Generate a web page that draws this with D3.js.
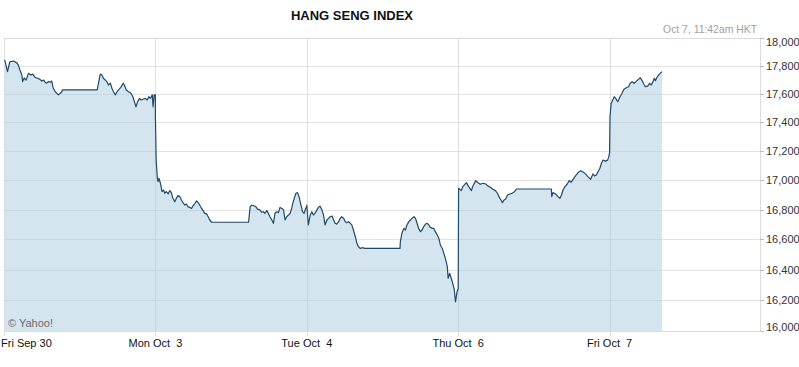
<!DOCTYPE html>
<html><head><meta charset="utf-8">
<script src="https://cdn.jsdelivr.net/npm/d3@7"></script>
<style>
body{margin:0;background:#fff}
svg{display:block}
text{font-family:"Liberation Sans",Arial,Helvetica,sans-serif}
</style>
</head><body>
<svg id="chart" width="799" height="367"></svg>
<script>
// ---- data ----
const title = "HANG SENG INDEX";
const stamp = "Oct 7, 11:42am HKT";
const credit = "\u00a9 Yahoo!";
const tradingDays = ["2011-09-30","2011-10-03","2011-10-04","2011-10-06","2011-10-07"];
const sessionLength = 390; // minutes per trading day, 9:30-16:00
const yTicks = [16000,16200,16400,16600,16800,17000,17200,17400,17600,17800,18000];

// [minutes since 9:30, index value]
const sep30 = [[2,17842],[9,17758],[15,17829],[24,17834],[33,17821],[37,17805],[41,17770],[46,17734],[48,17687],[52,17713],[57,17698],[63,17746],[69,17734],[74,17741],[80,17718],[86,17711],[93,17703],[97,17691],[102,17698],[106,17683],[110,17676],[114,17687],[119,17683],[123,17691],[127,17640],[132,17615],[140,17593],[145,17605],[149,17615],[150,17628],
[240,17628],[248,17741],[252,17734],[256,17711],[265,17687],[269,17663],[274,17676],[278,17640],[282,17615],[287,17593],[291,17615],[295,17628],[301,17646],[307,17676],[310,17663],[315,17628],[321,17615],[327,17605],[332,17580],[336,17544],[340,17509],[344,17544],[349,17568],[353,17557],[358,17562],[364,17568],[369,17557],[373,17580],[377,17568],[382,17593],[384,17509],[387,17593],[390,17593]];

const oct3 = [[0,17440],[2,17138],[5,17013],[7,16990],[9,17013],[13,16979],[17,16922],[21,16933],[24,16911],[28,16922],[33,16906],[37,16929],[41,16915],[45,16877],[50,16854],[54,16877],[58,16895],[63,16888],[67,16865],[71,16847],[76,16831],[80,16838],[84,16819],[89,16815],[93,16808],[97,16826],[102,16843],[106,16860],[110,16847],[114,16831],[119,16808],[123,16793],[127,16775],[132,16771],[136,16752],[140,16730],[145,16715],[150,16715],
[240,16715],[244,16819],[248,16831],[254,16826],[259,16819],[263,16803],[269,16798],[274,16782],[278,16786],[282,16775],[287,16793],[291,16775],[295,16752],[300,16730],[304,16708],[308,16775],[313,16786],[317,16780],[321,16815],[326,16808],[330,16798],[334,16730],[338,16752],[343,16764],[347,16775],[351,16808],[355,16854],[362,16911],[366,16915],[370,16888],[375,16831],[379,16786],[383,16775],[387,16808],[390,16819]];

const oct4 = [[0,16831],[4,16697],[9,16764],[13,16786],[17,16764],[21,16775],[26,16798],[30,16815],[34,16824],[39,16798],[43,16764],[47,16697],[52,16730],[56,16741],[60,16752],[65,16757],[69,16730],[73,16708],[77,16703],[82,16719],[86,16741],[90,16752],[95,16741],[99,16719],[103,16712],[107,16719],[112,16708],[116,16697],[120,16663],[125,16618],[129,16574],[133,16551],[138,16540],[142,16545],[150,16540],
[240,16540],[241,16585],[245,16641],[250,16674],[254,16663],[258,16697],[263,16719],[267,16730],[271,16741],[276,16752],[280,16741],[284,16708],[288,16674],[293,16652],[297,16663],[301,16685],[306,16703],[310,16708],[314,16697],[318,16681],[323,16674],[327,16674],[331,16652],[336,16629],[340,16608],[344,16563],[349,16540],[353,16507],[357,16474],[362,16419],[364,16343],[368,16375],[372,16343],[376,16310],[380,16266],[383,16189],[387,16254],[390,16276]];

const oct6 = [[1,16945],[8,16929],[12,16956],[21,16983],[27,16956],[34,16929],[38,16961],[45,16997],[51,16983],[57,16972],[64,16979],[71,16974],[76,16961],[83,16952],[89,16938],[96,16929],[101,16911],[105,16888],[109,16870],[114,16847],[118,16865],[122,16870],[127,16899],[133,16906],[139,16911],[145,16922],[150,16940],
[240,16940],[241,16888],[244,16915],[251,16906],[257,16888],[262,16877],[266,16899],[270,16933],[275,16956],[281,16974],[286,16997],[291,16986],[296,17006],[302,17029],[309,17052],[315,17065],[322,17056],[328,17043],[334,17024],[341,17006],[347,17043],[351,17029],[356,17036],[360,17058],[365,17082],[369,17116],[373,17138],[379,17131],[385,17138],[388,17162],[390,17192]];

const oct7 = [[1,17440],[4,17533],[8,17557],[12,17580],[17,17563],[21,17545],[27,17580],[32,17605],[37,17633],[43,17644],[49,17651],[53,17675],[58,17687],[63,17675],[68,17687],[74,17703],[79,17715],[83,17698],[87,17675],[92,17651],[98,17655],[103,17675],[107,17663],[112,17687],[115,17711],[118,17694],[122,17718],[126,17734],[130,17746],[135,17758]];

const sessions = [sep30, oct3, oct4, oct6, oct7];

// ---- chart ----
const svg = d3.select("#chart");
const pLeft = 4, pRight = 761, pTop = 38, pBottom = 331;
const x = d3.scaleLinear().domain([0, tradingDays.length * sessionLength]).range([pLeft, pRight]);
const y = d3.scaleLog().domain([yTicks[0], yTicks[yTicks.length-1]]).range([pBottom, pTop]);
const parse = d3.timeParse("%Y-%m-%d");
const fmt = d3.timeFormat("%a %b %e");
const points = sessions.flatMap((s, i) => s.map(([m, v]) => ({t: i * sessionLength + m, v})));
const px = v => Math.round(v) + 0.5;

// horizontal gridlines
svg.append("g").selectAll("line").data(yTicks).join("line")
  .attr("x1", pLeft).attr("x2", pRight - 1)
  .attr("y1", d => px(y(d))).attr("y2", d => px(y(d)))
  .attr("stroke", "#e2e2e2");

// vertical gridlines / day ticks
svg.append("g").selectAll("line").data(tradingDays).join("line")
  .attr("x1", (d, i) => px(x(i * sessionLength))).attr("x2", (d, i) => px(x(i * sessionLength)))
  .attr("y1", pTop).attr("y2", pBottom + 5)
  .attr("stroke", "#dedede");

// area + line
svg.append("path").datum(points)
  .attr("d", d3.area().x(d => x(d.t)).y0(y(yTicks[0])).y1(d => y(d.v)))
  .attr("fill", "rgb(180,209,229)").attr("fill-opacity", 0.56);

svg.append("path").datum(points)
  .attr("d", d3.line().x(d => x(d.t)).y(d => y(d.v)))
  .attr("fill", "none").attr("stroke", "#1f4a6a").attr("stroke-width", 1.2)
  .attr("stroke-linejoin", "round");

// frame
const frame = svg.append("g").attr("stroke", "#dcdcdc").attr("fill", "none");
frame.append("line").attr("x1", pLeft).attr("x2", pRight).attr("y1", px(pTop)).attr("y2", px(pTop));
frame.append("line").attr("x1", pLeft).attr("x2", pRight).attr("y1", px(pBottom)).attr("y2", px(pBottom));
frame.append("line").attr("x1", px(pRight - 1)).attr("x2", px(pRight - 1)).attr("y1", pTop).attr("y2", pBottom + 1);

// right axis ticks + labels
svg.append("g").selectAll("line").data(yTicks).join("line")
  .attr("x1", pRight - 1).attr("x2", pRight + 3)
  .attr("y1", d => px(y(d))).attr("y2", d => px(y(d)))
  .attr("stroke", "#bbbbbb");

svg.append("g").selectAll("text").data(yTicks).join("text")
  .attr("x", 766)
  .attr("y", d => Math.min(Math.max(y(d) + 4, 46), 331))
  .attr("font-size", 11).attr("fill", "#333")
  .text(d3.format(","));

// x labels
svg.append("g").selectAll("text").data(tradingDays).join("text")
  .attr("x", (d, i) => i === 0 ? 1 : x(i * sessionLength))
  .attr("y", 347)
  .attr("text-anchor", (d, i) => i === 0 ? "start" : "middle")
  .attr("font-size", 11).attr("fill", "#111")
  .style("white-space", "pre")
  .text(d => fmt(parse(d)));

// title, timestamp, credit
svg.append("text").attr("x", 352).attr("y", 20).attr("text-anchor", "middle")
  .attr("font-size", 13).attr("font-weight", "bold").attr("fill", "#111").text(title);
svg.append("text").attr("x", 757).attr("y", 33).attr("text-anchor", "end")
  .attr("font-size", 10.4).attr("fill", "#a0a0a0").text(stamp);
svg.append("text").attr("x", 8).attr("y", 326.5)
  .attr("font-size", 11).attr("fill", "#6a6a6a").text(credit);
</script>
</body></html>
